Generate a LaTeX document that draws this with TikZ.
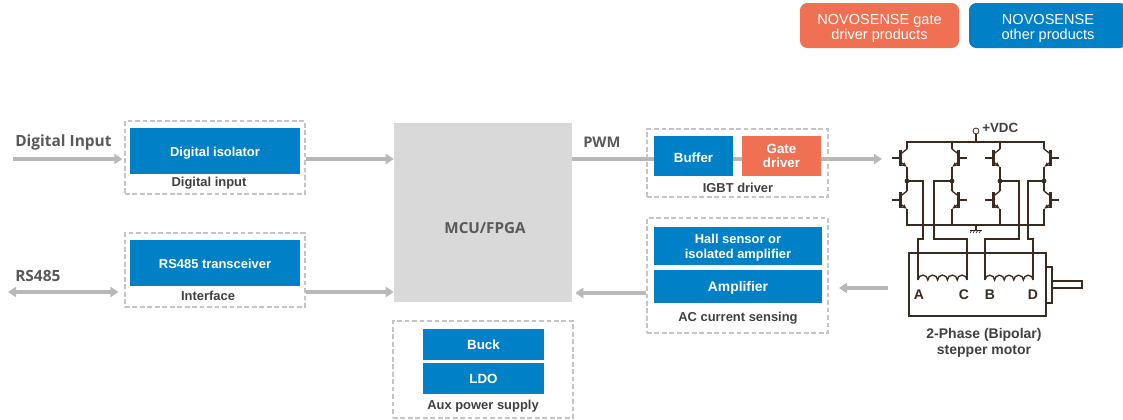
\documentclass[tikz,border=0pt]{standalone}
\usepackage{fontspec}
\setmainfont{Liberation Sans}
\newfontfamily\notof{Open Sans}
\usetikzlibrary{arrows.meta}
\definecolor{blu}{HTML}{0080C6}
\definecolor{org}{HTML}{F07053}
\definecolor{gar}{HTML}{B8B8B8}
\definecolor{dashc}{HTML}{C4C4C4}
\definecolor{mcuc}{HTML}{D9D9D9}
\definecolor{txt}{HTML}{404040}
\definecolor{hd}{HTML}{595959}
\definecolor{ckt}{HTML}{3A2A20}
\tikzset{
 x=0.75pt,y=-0.75pt,
 blk/.style={fill=blu,text=white,font=\bfseries\fontsize{9.7}{11.5}\selectfont,align=center,inner sep=0pt},
 pill/.style={rounded corners=5.5pt,text=white,font=\fontsize{10.9}{11}\selectfont,align=center,inner sep=0pt},
 grp/.style={draw=dashc,line width=0.9pt,dash pattern=on 3.6pt off 2pt,inner sep=0pt},
 capt/.style={text=txt,font=\bfseries\fontsize{9.7}{11}\selectfont,inner sep=0pt},
 headt/.style={text=hd,font=\notof\bfseries\fontsize{11.6}{13}\selectfont,inner sep=0pt},
 flow/.style={draw=gar,line width=2.6pt,-{Triangle[length=6pt,width=7.5pt]}},
 flowb/.style={draw=gar,line width=2.6pt,{Triangle[length=6pt,width=7.5pt]}-{Triangle[length=6pt,width=7.5pt]}},
 ck/.style={draw=ckt,line width=1pt},
 ckdot/.style={circle,fill=ckt,inner sep=0pt,minimum size=3.6pt},
}
% name, x1,y1,x2,y2, style, text
\newcommand{\rbx}[7]{\node[#6,minimum width={(#4-#2)*0.75pt},minimum height={(#5-#3)*0.75pt}] (#1) at ({(#2+#4)/2},{(#3+#5)/2}) {\rule{0pt}{9pt}#7};}
% leg x, centre y, direction (+1 right, -1 left)
\newcommand{\trans}[3]{%
 \draw[ck] ({#1+#3*15},#2) -- ({#1+#3*6.5},#2);
 \draw[draw=ckt,line width=2pt] ({#1+#3*6.5},{#2-8}) -- ({#1+#3*6.5},{#2+8});
 \draw[ck] ({#1+#3*6.5},{#2-4}) -- (#1,{#2-9});
 \draw[ck,-{Latex[length=3.6pt,width=3.4pt]}] ({#1+#3*6.5},{#2+4}) -- (#1,{#2+9});
}
\begin{document}
\begin{tikzpicture}
\useasboundingbox (0,0) rectangle (1123,419);
\fill[white] (0,0) rectangle (1123,419);
% legend
\rbx{legA}{800}{3}{959}{48}{pill,fill=org}{\rule{0pt}{12pt}NOVOSENSE gate\\driver products}
\rbx{legB}{969}{3}{1127}{48}{pill,fill=blu}{\rule{0pt}{12pt}NOVOSENSE\\other products}
% MCU
\rbx{mcu}{394}{123}{572}{302}{fill=mcuc,inner sep=0pt}{}
\node[text=hd,font=\notof\bfseries\fontsize{11.4}{13}\selectfont,inner sep=0pt] (mcuT) at (485,228) {MCU/FPGA};
% groups
\rbx{gIso}{125}{121}{305}{194}{grp}{}
\rbx{gIf}{125}{233}{305}{307}{grp}{}
\rbx{gDrv}{647}{129}{828}{197}{grp}{}
\rbx{gAc}{647}{218}{828}{333}{grp}{}
\rbx{gAux}{393}{321}{573}{418}{grp}{}
% coordinates for flow levels
\coordinate (yA) at (0,159);
\coordinate (yB) at (0,292);
\coordinate (yC) at (0,293);
\coordinate (dIn) at (13,159);
\coordinate (rsL) at (8,292);
\coordinate (outE) at (882,159);
\coordinate (senS) at (888,288);
\coordinate (senE) at (839,288);
% flows (PWM line passes behind the driver blocks)
\draw[flow,shorten >=2*0.75pt] (dIn) -- (gIso.west |- yA);
\draw[flowb,shorten >=6*0.75pt] (rsL) -- (gIf.west |- yB);
\draw[flow] (gIso.east |- yA) -- (mcu.west |- yA);
\draw[flow] (gIf.east |- yB) -- (mcu.west |- yB);
\draw[flow] (mcu.east |- yA) -- (outE);
\draw[flow,shorten >=3*0.75pt] (gAc.west |- yC) -- (mcu.east |- yC);
\draw[flow] (senS) -- (senE);
% blocks
\rbx{iso}{130}{128}{300}{174}{blk}{\rule{0pt}{11pt}Digital isolator}
\rbx{rs}{130}{240}{300}{286}{blk}{RS485 transceiver}
\rbx{buf}{654}{136}{733}{176}{blk,font=\bfseries\fontsize{10}{11.5}\selectfont}{\rule{0pt}{10pt}Buffer}
\rbx{gate}{742}{136}{821}{176}{blk,fill=org,font=\bfseries\fontsize{10}{10.5}\selectfont}{Gate\\driver\rule[-2.4pt]{0pt}{0pt}}
\rbx{hall}{654}{227}{822}{265}{blk}{Hall sensor or\\isolated amplifier}
\rbx{amp}{654}{270}{822}{303}{blk,font=\bfseries\fontsize{10.4}{11.5}\selectfont}{\rule{0pt}{10pt}Amplifier}
\rbx{buck}{423}{329}{544}{360}{blk,font=\bfseries\fontsize{10}{11.5}\selectfont}{Buck\rule[-1pt]{0pt}{0pt}}
\rbx{ldo}{423}{363}{544}{394}{blk,font=\bfseries\fontsize{10}{11.5}\selectfont}{LDO\rule[-1pt]{0pt}{0pt}}
% captions and heads
\node[capt] (cIso) at (209,183) {Digital input};
\node[capt] (cIf) at (208,296) {Interface};
\node[capt] (cDrv) at (738,188) {IGBT driver};
\node[capt] (cAc) at (738,318) {AC current sensing};
\node[capt] (cAux) at (483,406) {Aux power supply};
\node[headt,anchor=west] (hDig) at (15,142) {Digital Input};
\node[headt,anchor=west] (hRs) at (15,276) {RS485};
\node[headt,anchor=west,font=\notof\bfseries\fontsize{11}{13}\selectfont] (hPwm) at (583,142) {PWM};
% bridge
\draw[ck] (907,149) -- (907,142) -- (1044,142) -- (1044,149);
\draw[ck] (952,142) -- (952,149);
\draw[ck] (1000,142) -- (1000,149);
\foreach \lx in {907,952,1000,1044}{
  \draw[ck] (\lx,167) -- (\lx,191);
  \node[ckdot] at (\lx,181) {};
}
\draw[ck] (907,209) -- (907,225) -- (1044,225) -- (1044,209);
\draw[ck] (952,209) -- (952,225);
\draw[ck] (1000,209) -- (1000,225);
\trans{907}{158}{-1}\trans{907}{200}{-1}
\trans{952}{158}{1}\trans{952}{200}{1}
\trans{1000}{158}{-1}\trans{1000}{200}{-1}
\trans{1044}{158}{1}\trans{1044}{200}{1}
% +VDC
\node[circle,draw=ckt,line width=0.6pt,fill=white,inner sep=0pt,minimum size=6*0.75pt] (vdc) at (976,131) {};
\draw[ck] (vdc.south) -- (976,142);
\node[text=txt,font=\bfseries\fontsize{10}{11}\selectfont,inner sep=0pt,anchor=west] (vlab) at (982,128) {+VDC};
% ground
\draw[ck] (976,225) -- (976,230);
\draw[draw=ckt,line width=0.7pt] (970,230) -- (982,230);
\foreach \gx in {971,974,977,980}{\draw[draw=ckt,line width=0.5pt] (\gx+1,230) -- (\gx-1,233);}
% wires to coils
\draw[ck] (907,181) -- (923,181) -- (923,239) -- (918,239) -- (918,280);
\draw[ck] (952,181) -- (934,181) -- (934,239) -- (967,239) -- (967,280);
\draw[ck] (1000,181) -- (1019,181) -- (1019,239) -- (985,239) -- (985,280);
\draw[ck] (1044,181) -- (1028,181) -- (1028,239) -- (1033,239) -- (1033,280);
% coils
\draw[ck] (918,280) \foreach \i in {1,...,5}{ arc[start angle=180,end angle=0,radius=4.9*0.75pt] };
\draw[ck] (985,280) \foreach \i in {1,...,5}{ arc[start angle=180,end angle=0,radius=4.8*0.75pt] };
% motor
\draw[ck] (909,253) rectangle (1046,316);
\draw[ck] (1046,267) rectangle (1052,303);
\draw[ck] (1052,281) rectangle (1082,288);
\foreach \n/\t/\lx in {mA/A/919,mC/C/964,mB/B/990,mD/D/1033}{
  \node[capt,text=ckt,font=\bfseries\fontsize{10.5}{11}\selectfont] (\n) at (\lx,295) {\t};
}
\node[capt,align=center,font=\bfseries\fontsize{10.5}{12}\selectfont] (mot) at (984,343) {2-Phase (Bipolar)\\stepper motor};
\end{tikzpicture}
\end{document}
